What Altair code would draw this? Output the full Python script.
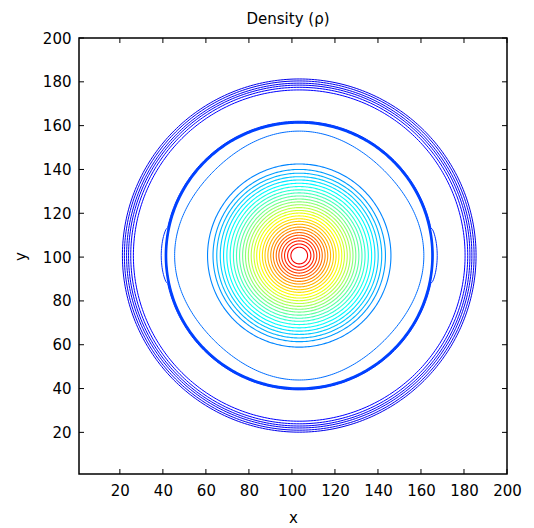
import altair as alt
import numpy as np
import pandas as pd

# ---------------- data ----------------
chart_title = "Density (ρ)"
x_ticks = [20, 40, 60, 80, 100, 120, 140, 160, 180, 200]
y_ticks = [20, 40, 60, 80, 100, 120, 140, 160, 180, 200]
center_x = 103.4
center_y = 100.7
x_stretch = 1.02  # contours are a touch wider in x than in y

# outer group of dark-blue circles
outer_levels = [0.104, 0.108, 0.112, 0.116, 0.120, 0.125]
outer_radii = [80.6, 79.7, 78.7, 77.8, 76.8, 75.6]

# thick, ragged ring (several nearly coincident contours)
ring_levels = [0.175, 0.185, 0.190]
ring_radii = [61.3, 60.9, 60.6]
ring_bulge = [1.6, 0.0, 0.0]
ring_widths = [1.0, 2.0, 2.0]

# rounded-square contour
square_levels = [0.232]
square_radii = [55.8]
square_amp = [1.0]

# dense core of concentric contours (outer -> inner)
core_levels = [0.255, 0.278, 0.302, 0.325, 0.348, 0.372, 0.395, 0.418, 0.442, 0.465,
               0.488, 0.512, 0.535, 0.558, 0.582, 0.605, 0.628, 0.652, 0.675, 0.698,
               0.722, 0.745, 0.768, 0.792, 0.815, 0.838, 0.862, 0.885]
core_radii = [41.8, 39.3, 37.6, 36.0, 34.5, 33.0, 31.5, 30.0, 28.6, 27.2,
              25.8, 24.5, 23.2, 21.9, 20.6, 19.4, 18.1, 16.8, 15.6, 14.3,
              13.0, 11.8, 10.5, 9.3, 8.0, 6.7, 5.3, 3.8]

# jet colormap stops
jet_domain = [0.0, 0.125, 0.375, 0.625, 0.875, 1.0]
jet_colors = ["#00008f", "#0000ff", "#00ffff", "#ffff00", "#ff0000", "#800000"]

# ---------------- build contour paths ----------------
theta = np.linspace(0.0, 2.0 * np.pi, 361)
rows = []
cid = 0


def add_contour(level, r0, width, sq=0.0, bulge=0.0):
    global cid
    r = r0 + sq * np.cos(4 * theta)
    if bulge:
        c = np.abs(np.cos(theta))
        lim = np.cos(np.radians(12))
        r = r + bulge * np.clip((c - lim) / (1 - lim), 0, 1) ** 0.5
    xs = center_x + x_stretch * r * np.cos(theta)
    ys = center_y + r * np.sin(theta)
    for i, (xv, yv) in enumerate(zip(xs, ys)):
        rows.append({"cid": cid, "i": i, "x": xv, "y": yv, "level": level, "w": width})
    cid += 1


for lv, rr in zip(outer_levels, outer_radii):
    add_contour(lv, rr, 1.0)
for lv, rr, b, w in zip(ring_levels, ring_radii, ring_bulge, ring_widths):
    add_contour(lv, rr, w, bulge=b)
for lv, rr, a in zip(square_levels, square_radii, square_amp):
    add_contour(lv, rr, 1.0, sq=a)
for lv, rr in zip(core_levels, core_radii):
    add_contour(lv, rr, 1.1)

df = pd.DataFrame(rows)

W, H = 428, 436
FONT = "DejaVu Sans"

xs_scale = alt.Scale(domain=[1, 200], nice=False, zero=False)
ys_scale = alt.Scale(domain=[1, 200], nice=False, zero=False)

x_axis = alt.Axis(values=x_ticks, ticks=False, tickSize=0, domain=False, grid=False,
                  labelFlush=False, labelOverlap=False,
                  labelFont=FONT, labelFontSize=15, labelColor="black", labelPadding=9,
                  title="x", titleFont=FONT, titleFontSize=15, titleFontWeight="normal",
                  titleColor="black", titlePadding=12)
y_axis = alt.Axis(values=y_ticks, ticks=False, tickSize=0, domain=False, grid=False,
                  labelFlush=False, labelOverlap=False,
                  labelFont=FONT, labelFontSize=15, labelColor="black", labelPadding=8,
                  title="y", titleFont=FONT, titleFontSize=15, titleFontWeight="normal",
                  titleColor="black", titlePadding=14)

lines = alt.Chart(df).mark_line(strokeJoin="round", clip=True).encode(
    x=alt.X("x:Q", scale=xs_scale, axis=x_axis),
    y=alt.Y("y:Q", scale=ys_scale, axis=y_axis),
    detail="cid:N",
    order="i:Q",
    color=alt.Color("level:Q",
                    scale=alt.Scale(domain=jet_domain, range=jet_colors, interpolate="rgb"),
                    legend=None),
    strokeWidth=alt.StrokeWidth("w:Q", scale=None),
)

xt = pd.DataFrame({"t": x_ticks})
yt = pd.DataFrame({"t": y_ticks})
tick_len = 5

bottom_ticks = alt.Chart(xt).mark_rule(color="black", strokeWidth=1).encode(
    x=alt.X("t:Q", scale=xs_scale, axis=x_axis), y=alt.value(H), y2=alt.value(H - tick_len))
top_ticks = alt.Chart(xt).mark_rule(color="black", strokeWidth=1).encode(
    x=alt.X("t:Q", scale=xs_scale, axis=x_axis), y=alt.value(0), y2=alt.value(tick_len))
left_ticks = alt.Chart(yt).mark_rule(color="black", strokeWidth=1).encode(
    y=alt.Y("t:Q", scale=ys_scale, axis=y_axis), x=alt.value(0), x2=alt.value(tick_len))
right_ticks = alt.Chart(yt).mark_rule(color="black", strokeWidth=1).encode(
    y=alt.Y("t:Q", scale=ys_scale, axis=y_axis), x=alt.value(W), x2=alt.value(W - tick_len))

title_layer = alt.Chart(pd.DataFrame({"label": [chart_title]})).mark_text(
    font=FONT, fontSize=15, color="black", align="center", baseline="alphabetic"
).encode(x=alt.value(W / 2 - 5), y=alt.value(-14), text="label:N")

chart = alt.layer(lines, bottom_ticks, top_ticks, left_ticks, right_ticks, title_layer).properties(
    width=W, height=H,
    background="white",
    autosize=alt.AutoSizeParams(type="none"),
    padding={"left": 71, "top": 30, "right": 19, "bottom": 54},
).configure_view(stroke="black", strokeWidth=1.5)

chart.save("out.html", embed_options={"renderer": "svg", "actions": False})
